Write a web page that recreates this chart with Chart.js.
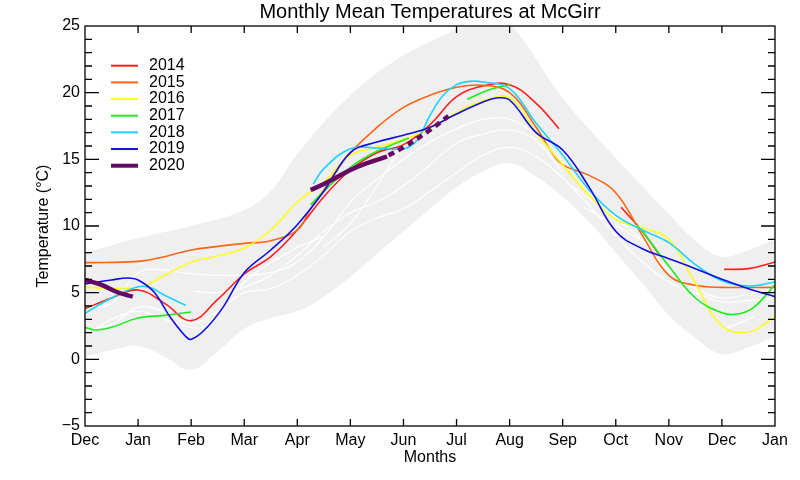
<!DOCTYPE html>
<html>
<head>
<meta charset="utf-8">
<script src="https://cdn.jsdelivr.net/npm/chart.js@4.4.0/dist/chart.umd.min.js"></script>
<style>
  html, body { margin: 0; padding: 0; background: #fff; }
</style>
</head>
<body>
<canvas id="tempChart" width="800" height="480"></canvas>
<script>
// month axis: 0 = Dec ... 13 = Jan of next year
var monthLabels = ['Dec', 'Jan', 'Feb', 'Mar', 'Apr', 'May', 'Jun', 'Jul', 'Aug', 'Sep', 'Oct', 'Nov', 'Dec', 'Jan'];
var yearLabels = ['2014', '2015', '2016', '2017', '2018', '2019', '2020'];
var yearColors = ['#ff1e1e', '#ff6414', '#ffff1e', '#1eec1e', '#1ed2ff', '#0f0fe0', '#640a64'];

// grey envelope (range of past years)
var bandUpper = [[0,8.0],[1,9.1],[2,10.0],[3,11.2],[3.5,12.6],[4,15.4],[5,19.8],[6,22.8],[7,24.8],[7.5,26.2],[8,25.2],[9,19.6],[10,15.1],[11,10.9],[11.5,8.9],[12,7.7],[12.5,8.2],[13,9.0]];
var bandLower = [[0,0.2],[0.5,0.7],[1,1.0],[1.5,0.2],[2,-0.8],[2.5,0.6],[3,2.3],[3.5,3.1],[4,3.6],[4.5,4.7],[5,6.2],[5.5,7.9],[6,9.6],[6.5,11.3],[7,12.9],[7.5,14.1],[8,14.7],[8.5,13.7],[9,12.2],[9.5,10.3],[10,8.0],[10.5,5.7],[11,3.3],[11.5,1.6],[12,0.4],[12.5,0.9],[13,1.7]];

// older years, drawn in white
var old1 = [[0,2.2],[0.5,2.6],[1,3.9],[1.5,3.6],[2,2.7],[2.5,3.6],[3,5.0],[3.5,5.3],[4,6.3],[4.5,7.8],[5,9.6],[5.5,10.6],[6,11.3],[6.5,12.6],[7,14.0],[7.5,15.3],[8,15.9],[8.5,15.2],[9,13.6],[9.5,11.5],[10,9.3],[10.5,7.3],[11,5.8],[11.5,5.0],[12,4.3],[12.5,4.4],[13,4.6]];
var old2 = [[0,3.9],[0.5,4.2],[1,6.5],[1.5,6.7],[2,6.4],[3,6.3],[3.5,6.5],[4,7.3],[4.5,9.2],[5,11.8],[5.5,13.5],[6,15.0],[6.5,16.3],[7,17.3],[7.5,18.0],[8,18.0],[8.5,16.8],[9,14.8],[9.5,12.4],[10,10.6],[10.5,8.9],[11,6.6],[11.5,5.3],[12,4.6],[12.5,4.9],[13,5.3]];
var old3 = [[2.05,5.1],[2.5,5.0],[3,5.4],[3.5,6.3],[4,7.8],[4.5,9.6],[5,11.0],[5.5,11.8],[6,13.0],[6.5,14.6],[7,16.2],[7.5,16.9],[8,17.2],[8.5,16.4],[9,14.0]];
var old4 = [[4.5,8.4],[5,10.2],[5.5,13.0],[6,16.0],[6.5,17.5],[7,18.2]];
var old5 = [[9.2,12.9],[10.1,10.4],[10.2,null],[9.4,11.4],[10.5,8.9],[11,null],[12,2.2],[12.6,3.2]];
var old6 = [[0.1,2.0],[0.5,3.0],[1,3.6],[1.5,3.0],[2,2.4],[2.3,2.6],[3,5.8],[4,8.4],[4.5,9.2]];

// monthly means per year, null = gap in record
var t2014 = [[0,3.8],[0.5,4.6],[1,5.2],[1.5,4.2],[2,2.9],[2.5,4.5],[3,6.4],[3.5,7.7],[4,9.7],[4.5,12.2],[5,14.2],[5.5,15.5],[6,16.1],[6.5,17.6],[7,19.7],[7.5,20.5],[8,20.6],[8.5,19.2],[8.93,17.3],[9.5,null],[10.1,11.4],[10.5,9.6],[10.8,7.95],[11.5,null],[12.04,6.75],[12.5,6.8],[13,7.3]];
var t2015 = [[0,7.25],[1,7.35],[1.5,7.7],[2,8.2],[3,8.7],[3.5,8.9],[4,9.7],[4.25,11.3],[4.5,12.7],[4.75,14.2],[5,15.5],[5.5,17.4],[6,18.9],[6.5,19.8],[7,20.4],[7.5,20.55],[8,20.0],[8.5,17.4],[8.75,15.8],[9,14.6],[9.5,13.8],[10,12.5],[10.5,9.3],[11,6.3],[11.5,5.55],[12,5.4],[13,5.4]];
var t2016 = [[0,5.4],[1,5.4],[1.5,6.3],[2,7.3],[2.5,7.75],[3,8.35],[3.5,9.7],[4,11.8],[4.5,13.3],[5,15.3],[5.5,15.9],[6,16.5],[6.5,17.3],[7,18.5],[7.5,19.4],[8,19.6],[8.5,17.0],[9,14.6],[9.5,12.3],[10,10.5],[10.5,9.85],[11,9.0],[11.5,5.7],[12,2.5],[12.5,2.05],[13,3.2]];
var t2017 = [[0,2.4],[0.2,2.2],[0.5,2.4],[1,3.1],[1.5,3.3],[2,3.55],[3,null],[4.25,11.6],[4.5,12.6],[5,14.4],[5.5,15.6],[6.1,16.6],[6.6,null],[7.2,19.5],[7.6,20.2],[8,20.6],[9,null],[10.4,10.05],[10.5,9.6],[11,7.0],[11.5,4.6],[12,3.5],[12.3,3.4],[12.6,3.9],[13,5.6]];
var t2018 = [[0,3.45],[0.5,4.6],[1,5.45],[1.25,5.35],[1.5,4.8],[1.9,4.05],[3,null],[4.3,13.15],[4.5,14.3],[5,15.8],[5.5,15.85],[6,15.8],[6.25,16.4],[6.5,18.3],[6.75,19.8],[7,20.6],[7.25,20.85],[7.5,20.8],[8,20.3],[8.5,17.7],[9,15.3],[9.5,12.7],[10,10.8],[10.5,9.7],[11,8.75],[11.5,7.1],[12,5.9],[12.5,5.5],[13,5.8]];
var t2019 = [[0,5.65],[0.5,5.95],[0.8,6.1],[1,5.95],[1.3,5.05],[1.6,3.2],[1.9,1.7],[2,1.5],[2.25,2.2],[2.6,3.9],[3,6.5],[3.5,8.2],[4,10.1],[4.5,12.6],[5,15.5],[5.5,16.3],[6,16.8],[6.5,17.4],[7,18.4],[7.5,19.3],[7.75,19.6],[8,19.45],[8.5,17.0],[9,15.7],[9.5,12.9],[10,9.6],[10.5,8.3],[11,7.55],[11.5,6.8],[12,6.0],[12.5,5.3],[13,4.7]];
var t2020 = [[0,5.95],[0.3,5.6],[0.6,5.05],[0.9,4.7],[2,null],[4.25,12.7],[4.5,13.15],[5,14.2],[5.3,14.7],[5.69,15.2]];
var t2020fc = [[5.72,15.3],[6,15.9],[6.5,17.2],[6.91,18.45]];

var fontFam = "'Liberation Sans', Arial, Helvetica, sans-serif";

function pts(arr) {
    return arr.map(function (p) { return { x: p[0], y: p[1] }; });
}

function oldLine(arr) {
    return { data: pts(arr), borderColor: '#ffffff', borderWidth: 1.2, order: 20 };
}

var yearSeries = [t2014, t2015, t2016, t2017, t2018, t2019, t2020];

var datasets = [
    { label: 'upper', data: pts(bandUpper), borderColor: 'rgba(0,0,0,0)', borderWidth: 0, backgroundColor: '#efefef', fill: '+1', order: 30 },
    { label: 'lower', data: pts(bandLower), borderColor: 'rgba(0,0,0,0)', borderWidth: 0, fill: false, order: 30 },
    oldLine(old1), oldLine(old2), oldLine(old3), oldLine(old4), oldLine(old5), oldLine(old6)
];

yearSeries.forEach(function (s, i) {
    datasets.push({
        label: yearLabels[i],
        data: pts(s),
        borderColor: yearColors[i],
        borderWidth: i === 6 ? 4.5 : 1.6,
        order: 10 - i,
        inLegend: true
    });
});
// 2020 still running: dashed part
datasets.push({ label: '2020 (cont.)', data: pts(t2020fc), borderColor: yearColors[6], borderWidth: 4.5, borderDash: [6, 5], order: 3 });

// box round the plot with inward ticks on all four sides
var frameTicks = {
    id: 'frameTicks',
    afterDatasetsDraw: function (chart) {
        var ctx = chart.ctx, a = chart.chartArea;
        var xs = chart.scales.x, ys = chart.scales.y;
        ctx.save();
        ctx.strokeStyle = '#000';
        ctx.lineWidth = 1.3;
        ctx.strokeRect(a.left, a.top, a.right - a.left, a.bottom - a.top);
        ctx.beginPath();
        for (var m = 1; m < monthLabels.length - 1; m++) {
            var px = xs.getPixelForValue(m);
            ctx.moveTo(px, a.bottom); ctx.lineTo(px, a.bottom - 7);
            ctx.moveTo(px, a.top); ctx.lineTo(px, a.top + 7);
        }
        for (var v = -4; v < 25; v++) {
            var py = ys.getPixelForValue(v);
            var len = (v % 5 === 0) ? 14 : 7;
            ctx.moveTo(a.left, py); ctx.lineTo(a.left + len, py);
            ctx.moveTo(a.right, py); ctx.lineTo(a.right - len, py);
        }
        ctx.stroke();
        ctx.restore();
    }
};

var yearLegend = {
    id: 'yearLegend',
    afterDraw: function (chart) {
        var ctx = chart.ctx;
        var row = 0;
        ctx.save();
        ctx.font = '16px ' + fontFam;
        ctx.textBaseline = 'middle';
        ctx.textAlign = 'left';
        chart.data.datasets.forEach(function (ds) {
            if (!ds.inLegend) return;
            var y = 65.7 + row * 16.67;
            ctx.strokeStyle = ds.borderColor;
            ctx.lineWidth = ds.borderWidth > 3 ? 4 : 2;
            ctx.beginPath();
            ctx.moveTo(111, y); ctx.lineTo(138, y);
            ctx.stroke();
            ctx.fillStyle = '#000';
            ctx.fillText(ds.label, 149, y);
            row++;
        });
        ctx.restore();
    }
};

Chart.defaults.font.family = fontFam;
Chart.defaults.color = '#000';

var ctx = document.getElementById('tempChart');
var tempChart = new Chart(ctx, {
    type: 'line',
    data: { datasets: datasets },
    options: {
        responsive: false,
        animation: false,
        layout: { padding: { top: 0, right: 25, bottom: 0, left: 0 } },
        elements: {
            point: { radius: 0, hoverRadius: 0 },
            line: { tension: 0.4, fill: false, borderCapStyle: 'butt' }
        },
        scales: {
            x: {
                type: 'linear',
                min: 0,
                max: 13,
                grid: { display: false, drawTicks: false },
                border: { display: false },
                ticks: {
                    stepSize: 1,
                    padding: 5,
                    autoSkip: false,
                    maxRotation: 0,
                    font: { size: 16 },
                    callback: function (value) { return monthLabels[value]; }
                },
                title: { display: true, text: 'Months', font: { size: 16 }, padding: { top: 0, bottom: 12.4 } },
                afterFit: function (scale) { scale.height = 54; }
            },
            y: {
                min: -5,
                max: 25,
                grid: { display: false, drawTicks: false },
                border: { display: false },
                ticks: {
                    stepSize: 5,
                    padding: 5,
                    font: { size: 16 },
                    callback: function (value) { return String(value).replace('-', '\u2212'); }
                },
                title: { display: true, text: 'Temperature (°C)', font: { size: 16 }, padding: { top: 34.4, bottom: 0 } },
                afterFit: function (scale) { scale.width = 85; }
            }
        },
        plugins: {
            legend: { display: false },
            tooltip: { enabled: false },
            title: {
                display: true,
                fullSize: false,
                text: 'Monthly Mean Temperatures at McGirr',
                color: '#000',
                font: { size: 20, weight: 'normal' },
                padding: { top: 0, bottom: 2 }
            }
        }
    },
    plugins: [frameTicks, yearLegend]
});
</script>
</body>
</html>
